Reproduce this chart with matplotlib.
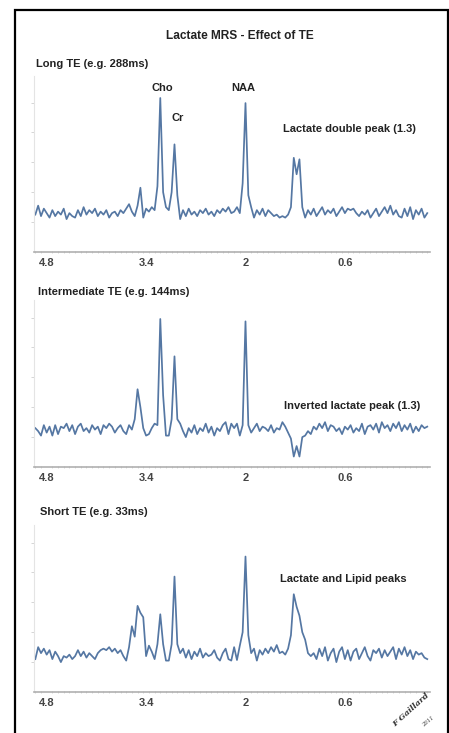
import numpy as np
import matplotlib
matplotlib.use("Agg")
import matplotlib.pyplot as plt
from matplotlib.patches import Rectangle

# ---------------- data ----------------
title = "Lactate MRS - Effect of TE"
panel_titles = ["Long TE (e.g. 288ms)", "Intermediate TE (e.g. 144ms)", "Short TE (e.g. 33ms)"]
tick_values = [4.8, 3.4, 2, 0.6]
tick_labels = ["4.8", "3.4", "2", "0.6"]
ppm_start = 4.96
ppm_step = 0.04

long_te = [
    1.25, 1.55, 1.2, 1.45, 1.3, 1.15, 1.4, 1.2, 1.35, 1.25,
    1.45, 1.1, 1.3, 1.2, 1.15, 1.4, 1.2, 1.5, 1.25, 1.4,
    1.3, 1.45, 1.2, 1.35, 1.25, 1.4, 1.15, 1.3, 1.35, 1.2,
    1.4, 1.3, 1.45, 1.6, 1.35, 1.2, 1.55, 2.15, 1.15, 1.45,
    1.35, 1.5, 1.4, 2.2, 5.15, 2.0, 1.5, 1.4, 2.0, 3.6,
    1.9, 1.1, 1.4, 1.2, 1.45, 1.25, 1.35, 1.2, 1.4, 1.3,
    1.45, 1.25, 1.35, 1.2, 1.4, 1.3, 1.45, 1.35, 1.5, 1.3,
    1.35, 1.5, 1.3, 2.3, 4.98, 1.9, 1.5, 1.15, 1.4, 1.25,
    1.45, 1.2, 1.4, 1.3, 1.2, 1.25, 1.15, 1.2, 1.15, 1.25,
    1.5, 3.15, 2.6, 3.1, 1.5, 1.15, 1.4, 1.25, 1.45, 1.2,
    1.35, 1.5, 1.25, 1.4, 1.3, 1.45, 1.2, 1.35, 1.5, 1.3,
    1.45, 1.4, 1.45, 1.3, 1.2, 1.35, 1.25, 1.4, 1.15, 1.3,
    1.45, 1.2, 1.35, 1.5, 1.3, 1.55, 1.25, 1.4, 1.2, 1.15,
    1.45, 1.2, 1.5, 1.1, 1.4, 1.25, 1.45, 1.15, 1.3,
]

intermediate_te = [
    1.3, 1.2, 1.05, 1.4, 1.15, 1.35, 1.05, 1.4, 1.1, 1.35,
    1.3, 1.45, 1.2, 1.4, 1.1, 1.35, 1.45, 1.2, 1.3, 1.15,
    1.4, 1.25, 1.35, 1.1, 1.4, 1.3, 1.45, 1.35, 1.15, 1.3,
    1.4, 1.2, 1.1, 1.4, 1.25, 1.6, 2.6, 2.0, 1.3, 1.05,
    1.1, 1.3, 1.45, 1.4, 4.95, 2.4, 1.05, 1.05, 1.6, 3.7,
    1.6, 1.45, 1.2, 1.0, 1.3, 1.15, 1.4, 1.1, 1.3, 1.2,
    1.45, 1.15, 1.35, 1.05, 1.3, 1.2, 1.4, 1.5, 1.1, 1.45,
    1.3, 1.45, 1.05, 1.4, 4.87, 1.4, 1.15, 1.3, 1.45, 1.2,
    1.35, 1.3, 1.2, 1.4, 1.15, 1.3, 1.25, 1.5, 1.35, 1.15,
    0.95, 0.35, 0.7, 0.35, 1.0, 1.05, 1.2, 1.1, 1.35, 1.25,
    1.45, 1.3, 1.5, 1.2, 1.4, 1.35, 1.2, 1.3, 1.1, 1.35,
    1.25, 1.4, 1.15, 1.3, 1.2, 1.45, 1.1, 1.35, 1.4, 1.25,
    1.45, 1.15, 1.5, 1.3, 1.4, 1.2, 1.45, 1.3, 1.5, 1.2,
    1.4, 1.25, 1.45, 1.15, 1.35, 1.2, 1.4, 1.3, 1.35,
]

short_te = [
    1.1, 1.5, 1.3, 1.45, 1.25, 1.4, 1.1, 1.35, 1.2, 1.0,
    1.2, 1.15, 1.25, 1.1, 1.2, 1.4, 1.2, 1.35, 1.15, 1.3,
    1.2, 1.1, 1.3, 1.4, 1.45, 1.4, 1.5, 1.35, 1.45, 1.3,
    1.4, 1.2, 1.05, 1.5, 2.2, 1.85, 2.88, 2.65, 2.5, 1.2,
    1.55, 1.35, 1.1, 1.6, 2.6, 1.6, 1.05, 1.05, 1.6, 3.86,
    1.6, 1.3, 1.45, 1.15, 1.4, 1.1, 1.35, 1.2, 1.45, 1.15,
    1.3, 1.2, 1.25, 1.4, 1.15, 1.05, 1.3, 1.45, 1.1, 1.05,
    1.5, 1.07, 1.55, 2.0, 4.53, 1.9, 1.3, 1.45, 1.05, 1.4,
    1.25, 1.45, 1.3, 1.5, 1.35, 1.57, 1.3, 1.35, 1.25, 1.45,
    1.9, 3.27, 2.85, 2.55, 2.0, 1.75, 1.3, 1.2, 1.3, 1.1,
    1.45, 1.2, 1.5, 1.05, 1.3, 1.45, 1.0, 1.35, 1.5, 1.1,
    1.4, 1.05, 1.35, 1.45, 1.1, 1.3, 1.5, 1.2, 1.05, 1.4,
    1.3, 1.45, 1.15, 1.4, 1.2, 1.35, 1.5, 1.1, 1.45, 1.25,
    1.5, 1.2, 1.4, 1.1, 1.35, 1.25, 1.3, 1.15, 1.1,
]

series = [long_te, intermediate_te, short_te]
annotations = [
    [("Cho", 162, 88), ("Cr", 178, 118), ("NAA", 243, 88), ("Lactate double peak (1.3)", 349, 129)],
    [("Inverted lactate peak (1.3)", 352, 406)],
    [("Lactate and Lipid peaks", 343, 579)],
]

# ---------------- layout ----------------
W, H = 449, 733
fig = plt.figure(figsize=(W / 100, H / 100), dpi=100)
fig.patch.set_facecolor("white")

FONT = ["Liberation Sans", "DejaVu Sans"]
line_color = "#5577a3"

# panel geometry in pixels: (axis bottom y, ylim top, title y)
panels = [(252, 5.9, 64), (467, 5.6, 292), (692, 5.6, 512)]
title_x = [36, 38, 40]
x_left_px, x_right_px = 33.9, 430.1
unit_px = 29.9
xlim = (4.98, -0.60)

for i, (y0, ytop, ty) in enumerate(panels):
    h_px = ytop * unit_px
    ax = fig.add_axes([x_left_px / W, (H - y0) / H, (x_right_px - x_left_px) / W, h_px / H])
    vals = np.array(series[i])
    ppm = ppm_start - ppm_step * np.arange(len(vals))
    ax.plot(ppm, vals, color=line_color, lw=1.25, solid_joinstyle="round")
    ax.set_xlim(*xlim)
    ax.set_ylim(0, ytop)
    for s in ["top", "right"]:
        ax.spines[s].set_visible(False)
    ax.spines["left"].set_color("#e4e4e4")
    ax.spines["left"].set_linewidth(0.8)
    ax.spines["bottom"].set_color("#b0b0b0")
    ax.spines["bottom"].set_linewidth(1.2)
    ax.set_yticks([1, 2, 3, 4, 5])
    ax.set_yticklabels([])
    ax.tick_params(axis="y", length=2.5, width=0.6, color="#cfcfcf", direction="out")
    ax.set_xticks(tick_values)
    ax.set_xticklabels(tick_labels, fontfamily=FONT, fontsize=8, fontweight="bold", color="#444444")
    ax.tick_params(axis="x", length=0, pad=4.5)
    ax.set_xticks(ppm[::2], minor=True)
    ax.tick_params(axis="x", which="minor", length=2, width=0.5, color="#c8c8c8", direction="inout")
    ax.patch.set_alpha(0)

    fig.text(title_x[i] / W, 1 - ty / H, panel_titles[i], fontfamily=FONT, fontsize=8,
             fontweight="bold", color="#222222", ha="left", va="center")
    for label, px, py in annotations[i]:
        fig.text(px / W, 1 - py / H, label, fontfamily=FONT, fontsize=8,
                 fontweight="bold", color="#222222", ha="center", va="center")

fig.text(240 / W, 1 - 36 / H, title, fontfamily=FONT, fontsize=8.6, fontweight="bold",
         color="#222222", ha="center", va="center")

# signature
fig.text(411 / W, 1 - 710 / H, "F Gaillard", fontfamily="DejaVu Serif", fontstyle="italic",
         fontweight="bold", fontsize=6, color="#333333", rotation=42, ha="center", va="center")
fig.text(428 / W, 1 - 722 / H, "2011", fontfamily="DejaVu Serif", fontstyle="italic",
         fontsize=3.8, color="#333333", rotation=40, ha="center", va="center")

# frame
fig.patches.append(Rectangle((15.5 / W, -0.05), (448 - 15.5) / W, 1.05 - 9.5 / H,
                             transform=fig.transFigure, fill=False, edgecolor="black", lw=1.6))

fig.savefig("out.png", dpi=100, facecolor="white")
